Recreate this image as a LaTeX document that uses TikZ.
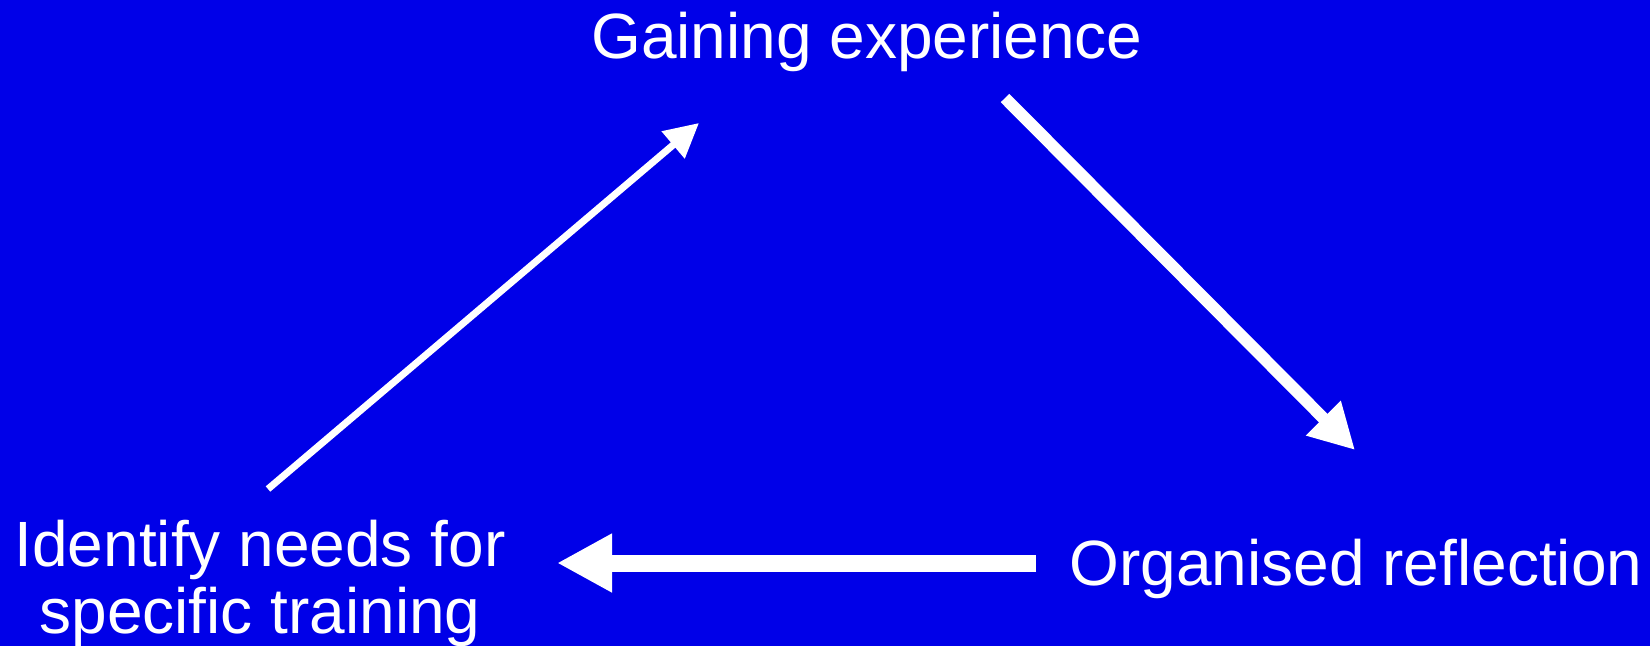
\documentclass[tikz,border=0pt]{standalone}
\usepackage{fontspec}
\setmainfont{Liberation Sans}
\usepackage{xcolor}
\usepackage{tikz}
\usetikzlibrary{arrows.meta}
\definecolor{slideblue}{RGB}{0,0,232}

\begin{document}
\begin{tikzpicture}[
  x=1pt,y=-1pt,
  font=\fontsize{64}{67}\selectfont,
  lbl/.style={text=white,inner sep=0pt,align=center},
  arr/.style={draw=white,line cap=butt}]
\fill[slideblue] (0,0) rectangle (1650,646);
\useasboundingbox (0,0) rectangle (1650,646);
\node[lbl,anchor=base] (gain) at (867,58) {Gaining experience};
\node[lbl,anchor=base] (refl) at (1356,585) {Organised reflection};
\node[lbl,anchor=north] (need) at (260,520) {Identify needs for\\specific training};
% arrow ends
\coordinate (needout) at (268,489); \coordinate (gainin) at (699,123);
\coordinate (gainout) at (1005,98); \coordinate (reflin) at (1355,450);
\coordinate (reflout) at (1036,563); \coordinate (needin) at (557,563);
\draw[arr,line width=7pt,-{Triangle[length=34pt,width=34pt]}] (needout)--(gainin);
\draw[arr,line width=12pt,-{Triangle[length=45pt,width=46pt]}] (gainout)--(reflin);
\draw[arr,line width=17pt,-{Triangle[length=55pt,width=55pt]}] (reflout)--(needin);
\end{tikzpicture}
\end{document}
